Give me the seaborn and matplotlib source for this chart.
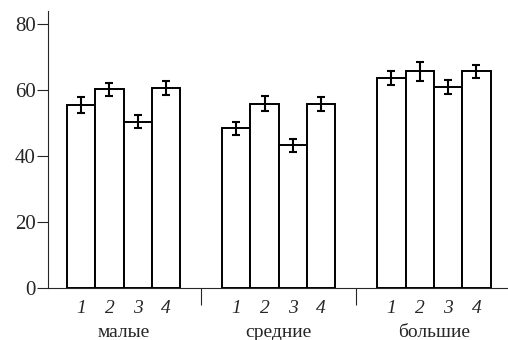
import numpy as np, pandas as pd
import matplotlib; matplotlib.use("Agg")
import matplotlib.pyplot as plt
import seaborn as sns

groups = ['малые', 'средние', 'большие']
levels = ['1', '2', '3', '4']
values = [[55.5, 60.2, 50.4, 60.6],
          [48.4, 55.8, 43.2, 55.8],
          [63.6, 65.7, 60.9, 65.7]]
errors = [[2.4, 2.0, 1.9, 2.1],
          [2.0, 2.3, 1.9, 2.0],
          [2.1, 2.9, 2.0, 2.0]]

sns.set_style("ticks")
plt.rcParams['font.family'] = 'serif'
plt.rcParams['font.serif'] = ['Liberation Serif', 'DejaVu Serif']
plt.rcParams['font.size'] = 15

d = pd.DataFrame([(g, l, v) for g, row in zip(groups, values) for l, v in zip(levels, row)],
                 columns=['group', 'level', 'value'])

fig = plt.figure(figsize=(5.08, 3.4), dpi=100)
ax = fig.add_axes([0.0945, 0.153, 0.9055, 0.815])
sns.barplot(data=d, x='group', y='value', hue='level', order=groups, hue_order=levels,
            palette=['white'] * 4, edgecolor='black', linewidth=1.4, width=0.73,
            errorbar=None, legend=False, ax=ax)

# error bars at the bar centres, ordered left to right
bars = sorted(ax.patches, key=lambda p: p.get_x())
xc = [p.get_x() + p.get_width() / 2 for p in bars]
hs = [p.get_height() for p in bars]
ax.errorbar(xc, hs, yerr=np.array(errors).ravel(), fmt='none', ecolor='black',
            elinewidth=1.5, capsize=3, capthick=1.5)

ax.set_xlim(-0.487, 2.477); ax.set_ylim(0, 84)
ax.set_yticks([0, 20, 40, 60, 80])
ax.tick_params(axis='y', length=8, width=0.8, pad=1, labelsize=15)
ax.set_xticks(xc)
ax.set_xticklabels(levels * 3, style='italic', fontsize=14)
ax.tick_params(axis='x', which='major', length=0, pad=9)
ax.set_xticks([0.5, 1.5], minor=True)
ax.tick_params(axis='x', which='minor', length=12, width=0.8)
for i, g in enumerate(groups):
    ax.text(i, -0.16, g, transform=ax.get_xaxis_transform(), ha='center', va='center',
            fontsize=14)
ax.set_xlabel(''); ax.set_ylabel('')
for s in ['left', 'bottom']:
    ax.spines[s].set_linewidth(0.8)
sns.despine(ax=ax)

fig.savefig('out.png', dpi=100)
